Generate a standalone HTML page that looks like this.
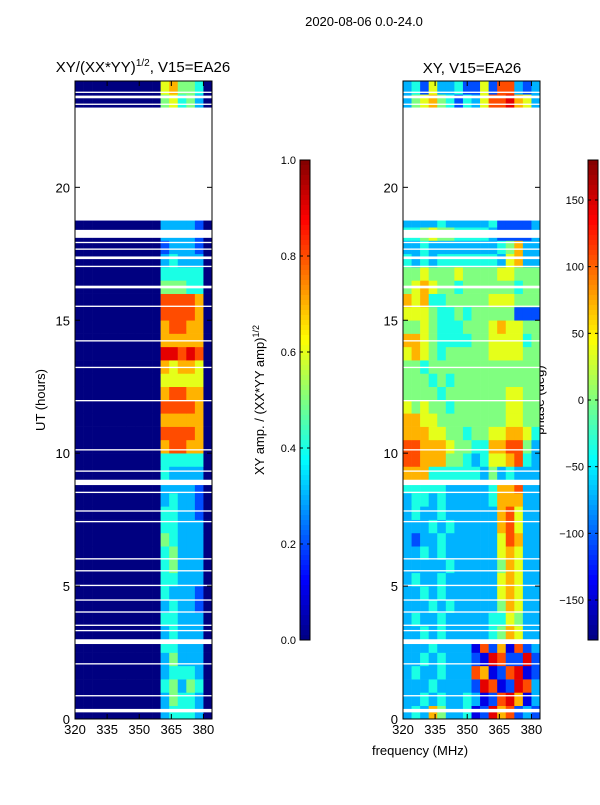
<!DOCTYPE html>
<html><head><meta charset="utf-8"><style>
body{margin:0;background:#fff}
svg text{font-family:"Liberation Sans","DejaVu Sans",sans-serif;fill:#000}
</style></head><body>
<svg id="fig" width="600" height="800" viewBox="0 0 600 800" xmlns="http://www.w3.org/2000/svg">
<text x="364" y="26" font-size="13" text-anchor="middle">2020-08-06 0.0-24.0</text>
<text x="143" y="72" font-size="15" text-anchor="middle">XY/(XX*YY)<tspan font-size="10" dy="-6">1/2</tspan><tspan dy="6">, V15=EA26</tspan></text>
<text x="472" y="73" font-size="15" text-anchor="middle">XY, V15=EA26</text>
<text transform="translate(45,400) rotate(-90)" font-size="13" text-anchor="middle">UT (hours)</text>
<text x="420" y="755" font-size="13" text-anchor="middle">frequency (MHz)</text>
<text transform="translate(264,400) rotate(-90)" font-size="13" text-anchor="middle">XY amp. / (XX*YY amp)<tspan font-size="9" dy="-5">1/2</tspan></text>
<text transform="translate(544,400) rotate(-90)" font-size="13" text-anchor="middle">phase (deg)</text>
<g id="plots"></g>
</svg>
<script>
const freqBins=[320,324,328,332,336,340,344,348,352,356,360,364,368,372,376,380];
const timeStep=0.5;
const ampRows=["0000000000344430","0000000000354430","0000000000453540","0000000000344430","0000000000353330","0000000000443330","0000000000343330","0000000000443330","0000000000343320","0000000000433320","0000000000443330","0000000000453330","0000000000453330","0000000000543330","0000000000443330","0000000000443320","0000000000343320","0000000000333320","0000000000433330","0000000000444440","0000000000788770","0000000000888870","0000000000777770","0000000000888870","0000000000788770","0000000000666660","0000000000767760","0000000000998980","0000000000777770","0000000000788770","0000000000888870","0000000000888870","0000000000555440","0000000000444440","0000000000343330","0000000000233320","0000000000333320","0000000000333320","................","................","................","................","................","................","................","................","0000000000564530","0000000000675540"];
const phaseRows=["3437533412978232","3343433431289713","3334333329812983","3433433387128912","3343433321982292","3334333318271823","3343433333457633","3433433333446533","3334343333357633","3343433333367633","3433433333367633","3333343333357633","3343433333367633","3233433333368733","3334343333378633","3433433333378633","3443433333477733","4444433333477833","7774444443534333","8877755434667843","8877765544778853","7776655455667764","7766555555556655","6565545555556655","5555455555556655","5554545555555555","5545555555555555","6765455555666655","7765444455666645","5565444555676655","6665445455555222","7674455555666555","5676554555555455","5565556555566555","4343444444436733","3343333333345733","4456554444322223","3333433333422223","................","................","................","................","................","................","................","................","3567542436889763","3426334226288323"];
const gaps=[[0.25,0.38],[0.85,0.9],[2.05,2.1],[2.82,3.0],[3.3,3.35],[3.5,3.55],[4.0,4.05],[4.45,4.5],[5.0,5.05],[5.55,5.6],[6.0,6.05],[7.4,7.45],[7.8,7.85],[8.5,8.55],[8.8,9.0],[9.3,9.35],[10.1,10.15],[11.95,12.0],[13.2,13.25],[14.2,14.25],[15.5,15.55],[16.2,16.3],[17.0,17.05],[17.3,17.4],[17.65,17.7],[17.9,17.95],[18.1,18.4],[18.75,23.0],[23.1,23.15],[23.35,23.45],[23.55,23.6]];
const xTicks=[320,335,350,365,380];
const yTicks=[0,5,10,15,20];
const ampTicks=[0,0.2,0.4,0.6,0.8,1.0];
const phaseTicks=[-150,-100,-50,0,50,100,150];
const NS="http://www.w3.org/2000/svg";
const root=document.getElementById('plots');
function jet(t){t=Math.max(0,Math.min(1,t));
 const r=Math.max(0,Math.min(1,1.5-Math.abs(4*t-3))),g=Math.max(0,Math.min(1,1.5-Math.abs(4*t-2))),b=Math.max(0,Math.min(1,1.5-Math.abs(4*t-1)));
 return `rgb(${Math.round(r*255)},${Math.round(g*255)},${Math.round(b*255)})`;}
function mk(tag,attrs,parent){const e=document.createElementNS(NS,tag);for(const k in attrs)e.setAttribute(k,attrs[k]);(parent||root).appendChild(e);return e;}
const Y0=719,Y1=81;
const yScale=h=>Y0-(h/24)*(Y0-Y1);
function panel(x0,x1,rows,name){
 const xs=f=>x0+(f-320)/64*(x1-x0);
 const g=mk('g',{});
 
 
 rows.forEach((row,i)=>{for(let j=0;j<row.length;j++){const c=row[j];if(c==='.')continue;
  const r=mk('rect',{x:xs(freqBins[j]),y:yScale((i+1)*timeStep),width:xs(freqBins[j]+4)-xs(freqBins[j])+0.3,height:yScale(i*timeStep)-yScale((i+1)*timeStep)+0.3,fill:jet(parseInt(c)/10)},g);
  
  }});
 gaps.forEach(gp=>{const r=mk('rect',{x:x0,y:yScale(gp[1]),width:x1-x0,height:Math.max(1,yScale(gp[0])-yScale(gp[1])),fill:'#fff'},g);
  
  });
 const fr=mk('rect',{x:x0,y:Y1,width:x1-x0,height:Y0-Y1,fill:'none',stroke:'#000','stroke-width':1},g);
 
 
 xTicks.forEach(t=>{const x=xs(t);
  mk('line',{x1:x,x2:x,y1:Y0,y2:Y0-5,stroke:'#000'},g);mk('line',{x1:x,x2:x,y1:Y1,y2:Y1+5,stroke:'#000'},g);
  const tx=mk('text',{x:x,y:Y0+15,'font-size':13,'text-anchor':'middle'},g);tx.textContent=t;
  
  });
 yTicks.forEach(t=>{const y=yScale(t);
  mk('line',{x1:x0,x2:x0+5,y1:y,y2:y,stroke:'#000'},g);mk('line',{x1:x1,x2:x1-5,y1:y,y2:y,stroke:'#000'},g);
  const tx=mk('text',{x:x0-5,y:y+5,'font-size':13,'text-anchor':'end'},g);tx.textContent=t;
  
  });
}
panel(75,212,ampRows,'amplitude-heatmap');
panel(403,540,phaseRows,'phase-heatmap');
function colorbar(x,min,max,ticks,name,fmt){
 const g=mk('g',{});
 
 
 const top=160,bot=640;
 for(let k=0;k<96;k++){const y=top+k*(bot-top)/96;mk('rect',{x:x,y:y,width:10,height:(bot-top)/96+0.5,fill:jet(1-(k+0.5)/96)},g);}
 mk('rect',{x:x,y:top,width:10,height:bot-top,fill:'none',stroke:'#000'},g);
 ticks.forEach(t=>{const y=bot-(t-min)/(max-min)*(bot-top);
  mk('line',{x1:x,x2:x+3,y1:y,y2:y,stroke:'#000'},g);mk('line',{x1:x+10,x2:x+7,y1:y,y2:y,stroke:'#000'},g);
  const tx=mk('text',{x:x-4,y:y+4,'font-size':11,'text-anchor':'end'},g);tx.textContent=fmt(t);
  
  });
}
colorbar(300,0,1,ampTicks,'amplitude-colorbar',t=>t.toFixed(1));
colorbar(588,-180,180,phaseTicks,'phase-colorbar',t=>t<0?'\u2212'+(-t):''+t);
</script>
</body></html>
